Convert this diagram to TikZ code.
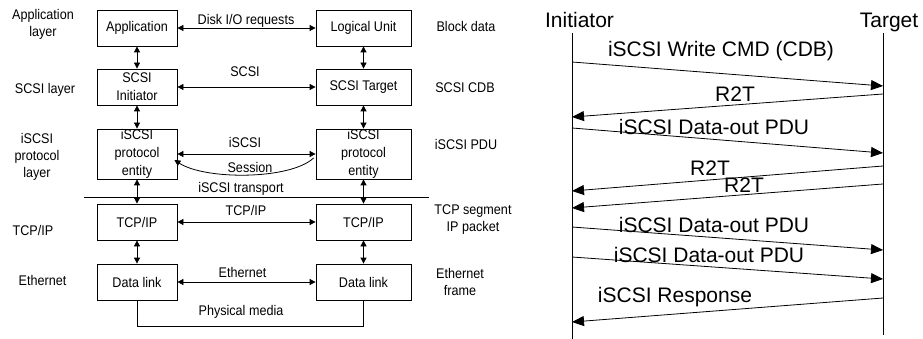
\documentclass[tikz,border=0pt]{standalone}
\usepackage{fontspec}
\setmainfont{Liberation Sans}
\newfontfamily\narrowsf[FakeStretch=0.9]{Liberation Sans}
\usetikzlibrary{arrows.meta}
\tikzset{
  blk/.style={draw, minimum height=36pt, inner sep=0pt, align=center,
    font=\narrowsf\fontsize{14}{18}\selectfont},
  lbl/.style={inner sep=0pt, align=center, font=\narrowsf\fontsize{14}{17}\selectfont},
  msg/.style={inner sep=0pt, anchor=base, font=\fontsize{21}{25}\selectfont},
  sig/.style={-{Stealth[length=12pt,width=10pt,inset=0pt]}}
}
\begin{document}
\begin{tikzpicture}[x=1pt,y=-1pt,line width=.8pt,>={Stealth[length=6pt,width=6pt,inset=0pt]}]
\useasboundingbox (0,0) rectangle (923,339);
% protocol stacks
\node[blk,minimum width=80pt] (app) at (137,28) {Application};
\node[blk,minimum width=80pt] (sini) at (137,87) {SCSI\\Initiator};
\node[blk,minimum width=80pt,minimum height=50pt] (ipe) at (137,154) {iSCSI\\protocol\\entity};
\node[blk,minimum width=80pt] (tcpl) at (137,222) {TCP/IP};
\node[blk,minimum width=80pt] (dll) at (137,282) {Data link};
\node[blk,minimum width=95pt] (lu) at (363.5,28) {Logical Unit};
\node[blk,minimum width=95pt] (stgt) at (363.5,87) {SCSI Target};
\node[blk,minimum width=95pt,minimum height=50pt] (ipr) at (363.5,154) {iSCSI\\protocol\\entity};
\node[blk,minimum width=95pt] (tcpr) at (363.5,222) {TCP/IP};
\node[blk,minimum width=95pt] (dlr) at (363.5,282) {Data link};
\foreach \a/\b in {app/sini,sini/ipe,ipe/tcpl,tcpl/dll,lu/stgt,stgt/ipr,ipr/tcpr,tcpr/dlr}
  \draw[<->] (\a) -- (\b);
\foreach \a/\b in {app/lu,sini/stgt,ipe/ipr,tcpl/tcpr,dll/dlr}
  \draw[<->] (\a.east) -- (\b.west);
\draw[<-] ([xshift=-3pt,yshift=-6pt]ipe.east) .. controls (205,180) and (290,180) .. ([xshift=-2pt,yshift=-4pt]ipr.west);
\draw (84,197) -- (429,197);
\draw (dll.south) -- ++(0,26) -| (dlr.south);
% layer names
\node[lbl] (lapp) at (43,24) {Application\\layer};
\node[lbl,anchor=base] (lscsi) at (45,94) {SCSI layer};
\node[lbl] (liscsi) at (37,157) {iSCSI\\protocol\\layer};
\node[lbl,anchor=base] (ltcp) at (33,235) {TCP/IP};
\node[lbl,anchor=base] (leth) at (42.5,285) {Ethernet};
\node[lbl,anchor=base] (rblk) at (466,32) {Block data};
\node[lbl,anchor=base] (rcdb) at (465,93) {SCSI CDB};
\node[lbl,anchor=base] (rpdu) at (466,150) {iSCSI PDU};
\node[lbl] (rseg) at (473,220) {TCP segment\\IP packet};
\node[lbl] (rfrm) at (460,282) {Ethernet\\frame};
\node[lbl,anchor=base] (tdisk) at (246,25) {Disk I/O requests};
\node[lbl,anchor=base] (tscsi) at (245,77) {SCSI};
\node[lbl,anchor=base] (tiscsi) at (245,148) {iSCSI};
\node[lbl,anchor=base] (tsess) at (250,173) {Session};
\node[lbl,anchor=base] (ttrans) at (241,193) {iSCSI transport};
\node[lbl,anchor=base] (ttcp) at (246,215) {TCP/IP};
\node[lbl,anchor=base] (teth) at (242.5,277) {Ethernet};
\node[lbl,anchor=base] (tphy) at (241,315) {Physical media};
% write sequence
\node[msg] (ini) at (579.5,28) {Initiator};
\node[msg] (tgt) at (889,28) {Target};
\coordinate (inil) at (572,33);
\coordinate (tgtl) at (883,33);
\draw (inil) -- ++(0,306);
\draw (tgtl) -- ++(0,302);
\foreach \f/\ya/\t/\yb/\lx/\ly/\txt [count=\i] in {
  inil/62/tgtl/86/721/57/{iSCSI Write CMD (CDB)},
  tgtl/94/inil/117/735/102/{R2T},
  inil/128/tgtl/153/714/135/{iSCSI Data-out PDU},
  tgtl/166/inil/191/710/176/{R2T},
  tgtl/184/inil/208/744/193/{R2T},
  inil/227/tgtl/250/714/233/{iSCSI Data-out PDU},
  inil/257/tgtl/279/709/262/{iSCSI Data-out PDU},
  tgtl/298/inil/322/675/302/{iSCSI Response}}{
  \draw[sig] (\f |- 0,\ya) -- (\t |- 0,\yb);
  \node[msg] (m\i) at (\lx,\ly) {\txt};
}
\end{tikzpicture}
\end{document}
